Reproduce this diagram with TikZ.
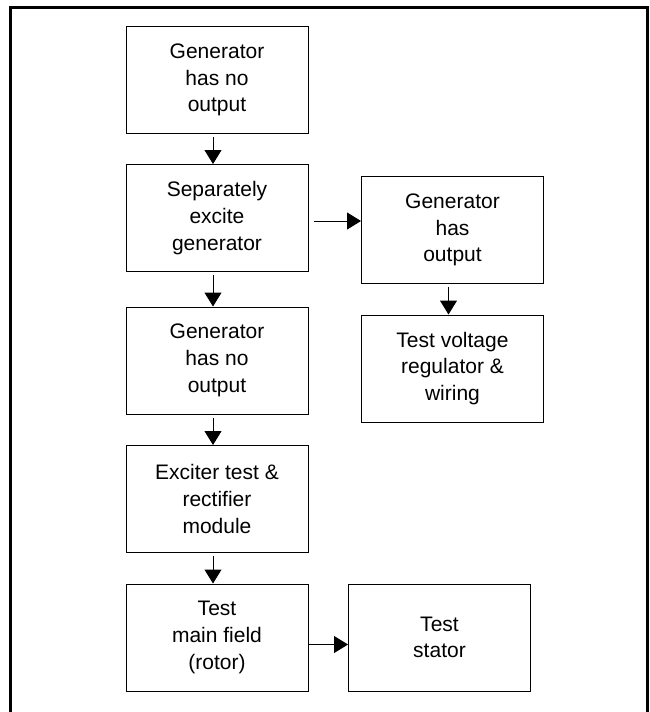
\documentclass[tikz,border=0pt]{standalone}
\usepackage{fontspec}
\setmainfont{Liberation Sans}
\usetikzlibrary{arrows.meta}

\tikzset{
  stepbox/.style={draw, line width=1pt, minimum width=182pt, minimum height=107pt,
    inner sep=0pt, align=center, font=\fontsize{21}{26.7}\selectfont},
  flow/.style={-{Triangle[width=17pt,length=14pt]}, line width=1pt},
}

\begin{document}
\begin{tikzpicture}[x=1pt, y=-1pt]
\useasboundingbox (0,0) rectangle (650,712);

% Marco
\draw[line width=2.5pt] (10.5,720) -- (10.5,7.5) -- (647.5,7.5) -- (647.5,720);

% Columna principal
\node[stepbox] (noout) at (217,80) {Generator\\has no\\output};
\node[stepbox] (excite) at (217,218) {Separately\\excite\\generator};
\node[stepbox] (stillno) at (217,360.5) {Generator\\has no\\output};
\node[stepbox] (exciter) at (217,499) {Exciter test \&\\rectifier\\module};
\node[stepbox] (rotor) at (217,637.5) {Test\\main field\\(rotor)};

% Columna derecha
\node[stepbox] (hasout) at (452.5,230) {Generator\\has\\output};
\node[stepbox] (regul) at (452.5,368.5) {Test voltage\\regulator \&\\wiring};
\node[stepbox] (stator) at (439.5,637.5) {Test\\stator};

% Flechas
\draw[flow] ([xshift=-4pt,yshift=-3pt]noout.south) -- ([xshift=-4pt]excite.north);
\draw[flow] ([xshift=-4pt,yshift=-3pt]excite.south) -- ([xshift=-4pt]stillno.north);
\draw[flow] ([xshift=-4pt,yshift=-3pt]stillno.south) -- ([xshift=-4pt]exciter.north);
\draw[flow] ([xshift=-4pt,yshift=-3pt]exciter.south) -- ([xshift=-4pt]rotor.north);
\draw[flow] ([xshift=5pt,yshift=-3pt]excite.east) coordinate (e1) -- (e1 -| hasout.west);
\draw[flow] ([xshift=-4pt,yshift=-3pt]hasout.south) -- ([xshift=-4pt]regul.north);
\draw[flow] ([yshift=-7pt]rotor.east) coordinate (r1) -- (r1 -| stator.west);

\end{tikzpicture}
\end{document}
